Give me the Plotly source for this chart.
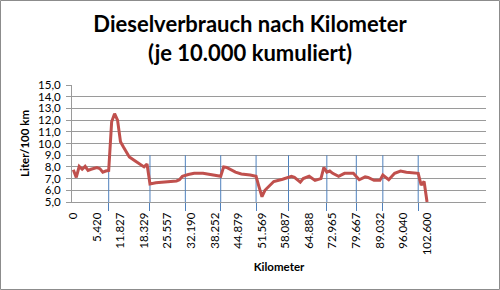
import plotly.graph_objects as go

# Category labels (km) shown every 8th category
km_labels = ["0", "5.420", "11.827", "18.329", "25.557", "32.190", "38.252", "44.879",
             "51.569", "58.087", "64.888", "72.965", "79.667", "89.032", "96.040", "102.600"]
label_step = 8
n_categories = 140

# Consumption readings (category index, Liter/100 km)
cat_idx = [0, 1, 2, 3, 4, 5, 6, 8, 9, 10, 11, 12,
           13, 14, 15, 16, 17, 19, 21, 23, 24, 25,
           26, 28, 31, 35, 36, 37, 39, 41, 44, 47, 50,
           51, 52, 55, 57, 60, 62,
           63, 64, 65, 67, 68, 71, 74, 75, 77, 78, 80, 82, 84,
           85, 86, 87, 88, 90, 92, 95, 97, 99, 100, 102, 104, 105, 107, 109, 111, 113, 116, 117,
           118, 119, 120]
liters = [7.75, 7.1, 8.05, 7.8, 8.05, 7.7, 7.8, 7.95, 7.85, 7.55, 7.65, 7.7,
          11.85, 12.55, 12.0, 10.15, 9.7, 8.85, 8.5, 8.15, 8.0, 8.25,
          6.55, 6.65, 6.7, 6.8, 6.9, 7.2, 7.35, 7.45, 7.45, 7.3, 7.2,
          8.0, 7.95, 7.55, 7.4, 7.3, 7.2,
          6.3, 5.45, 6.0, 6.55, 6.75, 6.95, 7.2, 7.1, 6.7, 7.0, 7.2, 6.85, 7.0,
          7.95, 7.55, 7.65, 7.45, 7.2, 7.45, 7.45, 6.9, 7.15, 7.1, 6.85, 6.85, 7.3, 6.9, 7.45, 7.65, 7.55, 7.5, 7.45,
          6.45, 6.75, 5.0]

# Categories where the 10.000 km accumulation restarts
reset_idx = [12, 26, 38, 50, 62, 73, 86, 96, 105, 117]
reset_level = 9.0

y_min, y_max, y_step = 5.0, 15.0, 1.0

W, H = 500, 290
ml, mr, mt, mb = 72, 14, 85, 88

fig = go.Figure()

# blue reset markers
rx, ry = [], []
for i in reset_idx:
    rx += [i, i, None]
    ry += [y_min, reset_level, None]
fig.add_trace(go.Scatter(x=rx, y=ry, mode="lines", line=dict(color="#4f81bd", width=1),
                         hoverinfo="skip", showlegend=False))

fig.add_trace(go.Scatter(x=cat_idx, y=liters, mode="lines",
                         line=dict(color="#c0504d", width=3), showlegend=False))

# dummy trace on xaxis2 so the overlay axis gets drawn
fig.add_trace(go.Scatter(x=[reset_idx[0]], y=[y_min], xaxis="x2", mode="markers",
                         marker=dict(opacity=0), hoverinfo="skip", showlegend=False))

tick_pos = [k * label_step for k in range(len(km_labels))]
yt = [y_min + k * y_step for k in range(int((y_max - y_min) / y_step) + 1)]

fig.update_layout(
    width=W, height=H,
    margin=dict(l=ml, r=mr, t=mt, b=mb),
    paper_bgcolor="white", plot_bgcolor="white",
    font=dict(family="Lato, sans-serif", color="#000000"),
    title=dict(text="<b>Dieselverbrauch nach Kilometer<br>(je 10.000 kumuliert)</b>",
               x=0.5, xanchor="center", xref="container",
               y=0.89, yref="container", yanchor="top",
               font=dict(family="Lato, sans-serif", size=22, color="#000000")),
    xaxis=dict(range=[-0.45, n_categories], tickmode="array", tickvals=tick_pos,
               ticktext=km_labels, tickangle=-90, ticks="", showgrid=False,
               showline=True, linecolor="#9a9a9a", linewidth=1, zeroline=False,
               tickfont=dict(size=11.5), ticklabelstandoff=5,
               title=dict(text="<b>Kilometer</b>", font=dict(size=11.5), standoff=8)),
    xaxis2=dict(range=[-0.45, n_categories], overlaying="x", anchor="y", side="bottom",
                tickmode="array", tickvals=reset_idx, showticklabels=False,
                ticks="outside", ticklen=8, tickcolor="#4f81bd", tickwidth=1,
                showgrid=False, showline=False, zeroline=False),
    yaxis=dict(range=[y_min, y_max], tickmode="array", tickvals=yt,
               ticktext=[f"{v:.1f}".replace(".", ",") for v in yt],
               showgrid=True, gridcolor="#9a9a9a", gridwidth=1,
               showline=True, linecolor="#9a9a9a", linewidth=1,
               ticks="outside", ticklen=5, tickcolor="#9a9a9a", zeroline=False,
               tickfont=dict(size=11.5), ticklabelstandoff=3,
               title=dict(text="<b>Liter/100 km</b>", font=dict(size=11.5), standoff=6)),
)

pw, ph = W - ml - mr, H - mt - mb
fig.add_shape(type="rect", xref="paper", yref="paper",
              x0=-(ml - 0.5) / pw, x1=1 + (mr - 0.5) / pw,
              y0=-(mb - 0.5) / ph, y1=1 + (mt - 0.5) / ph,
              line=dict(color="#8c8c8c", width=1), fillcolor="rgba(0,0,0,0)", layer="below")

fig.write_html("out.html")
